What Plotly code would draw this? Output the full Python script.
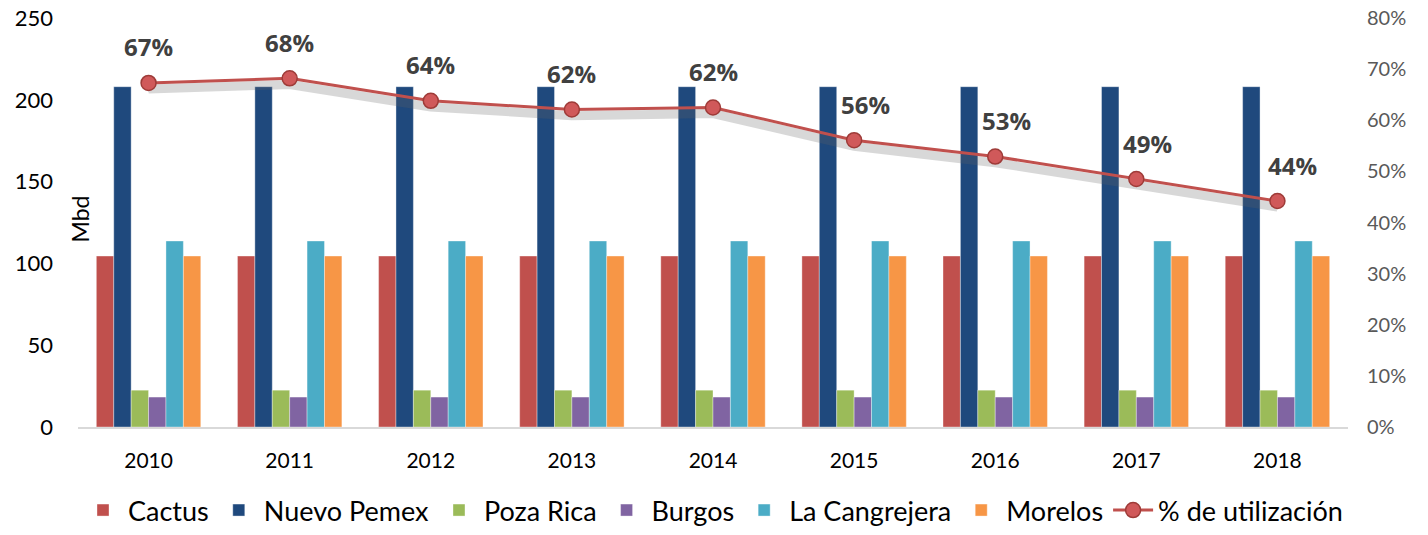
import plotly.graph_objects as go

years = ["2010", "2011", "2012", "2013", "2014", "2015", "2016", "2017", "2018"]
cactus = [104.5] * 9
nuevo_pemex = [208] * 9
poza_rica = [22.5] * 9
burgos = [18.3] * 9
la_cangrejera = [113.7] * 9
morelos = [104.5] * 9
utilizacion = [0.673, 0.682, 0.638, 0.621, 0.625, 0.561, 0.529, 0.485, 0.442]
util_labels = ["67%", "68%", "64%", "62%", "62%", "56%", "53%", "49%", "44%"]

series = [
    ("Cactus", cactus, "#C0504D"),
    ("Nuevo Pemex", nuevo_pemex, "#1F497D"),
    ("Poza Rica", poza_rica, "#9BBB59"),
    ("Burgos", burgos, "#8064A2"),
    ("La Cangrejera", la_cangrejera, "#4BACC6"),
    ("Morelos", morelos, "#F79646"),
]

fig = go.Figure()
for name, vals, col in series:
    fig.add_trace(go.Bar(
        x=years, y=vals, name=name,
        marker=dict(color=col, line=dict(width=0.6, color="rgba(255,255,255,0.6)")),
    ))

# soft shadow under the line
fig.add_trace(go.Scatter(
    x=years, y=[u - 0.012 for u in utilizacion], yaxis="y2", mode="lines",
    line=dict(color="rgba(100,100,100,0.25)", width=9), showlegend=False, hoverinfo="skip",
))
fig.add_trace(go.Scatter(
    x=years, y=utilizacion, name="% de utilización", yaxis="y2",
    mode="lines+markers",
    line=dict(color="#C0504D", width=3),
    marker=dict(size=15, color="#D0595A", line=dict(color="#9E3B38", width=1.5)),
))

xshifts = [0, 0, 0, 0, 0, 11, 11, 11, 15]
for i, (u, lab, xs) in enumerate(zip(utilizacion, util_labels, xshifts)):
    fig.add_annotation(
        x=i, y=u, xref="x", yref="y2", text=f"<b>{lab}</b>", showarrow=False,
        yshift=36, xshift=xs,
        font=dict(family="Open Sans, DejaVu Sans", size=24, color="#404040"),
    )

fig.add_annotation(
    text="Mbd", x=0.0, xref="paper", xanchor="center", xshift=1,
    y=0.5, yref="paper", yanchor="middle", yshift=3,
    textangle=-90, showarrow=False,
    font=dict(family="Lato, Open Sans, sans-serif", size=23, color="#000000"),
)

fig.update_layout(
    width=1428, height=535,
    margin=dict(l=78, r=80, t=18, b=108),
    paper_bgcolor="white", plot_bgcolor="white",
    barmode="group", bargap=0.26, bargroupgap=0,
    font=dict(family="Lato, Open Sans, sans-serif", size=20, color="#000000"),
    xaxis=dict(
        type="category", range=[-0.5, len(years) - 0.5], autorange=False,
        showline=True, linecolor="#D9D9D9", linewidth=2, ticks="",
        tickfont=dict(size=21, color="#000000"), showgrid=False,
        ticklabelstandoff=14, automargin=False,
    ),
    yaxis=dict(
        range=[0, 250], dtick=50, showgrid=False, zeroline=False,
        tickfont=dict(size=22, color="#000000"),
        ticklabelstandoff=24, automargin=False,
    ),
    yaxis2=dict(
        range=[0, 0.8], dtick=0.1, tickformat=".0%", overlaying="y", side="right",
        showgrid=False, zeroline=False,
        tickfont=dict(size=20, color="#595959"),
        ticklabelstandoff=18, automargin=False,
    ),
    legend=dict(
        orientation="h", x=0.5, xanchor="center",
        yref="container", y=0.0, yanchor="bottom",
        font=dict(family="Lato, sans-serif", size=27, color="#000000"),
        itemwidth=40, tracegroupgap=0,
    ),
    showlegend=True,
)

fig.write_html("out.html", config={"displayModeBar": False},
               post_script="document.body.style.margin='0';")
